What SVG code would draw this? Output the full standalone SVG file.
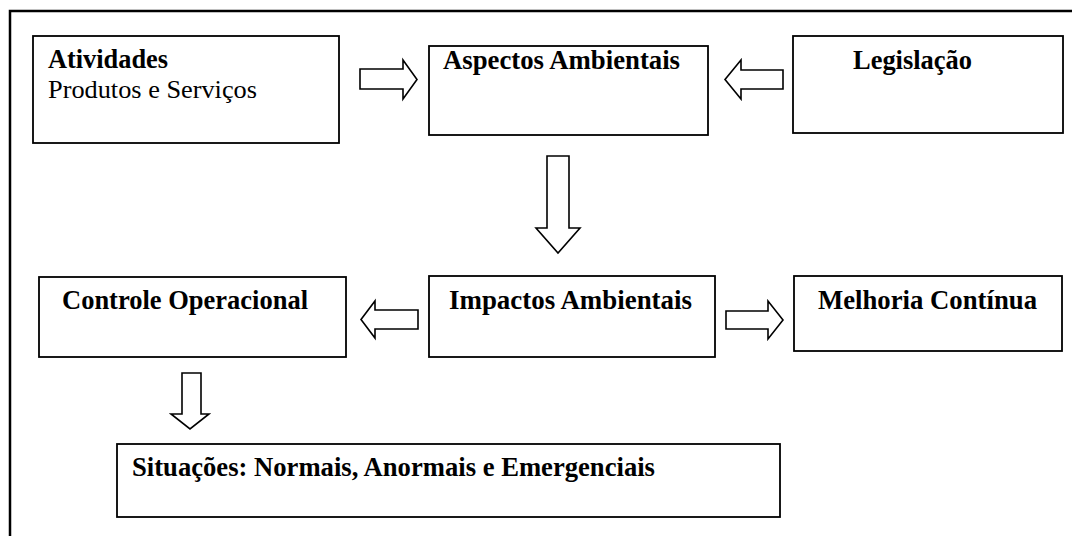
<svg xmlns="http://www.w3.org/2000/svg" width="1072" height="536" viewBox="0 0 1072 536">
  <style>
    .box { fill: #ffffff; stroke: #000000; stroke-width: 1.8; }
    .frame { fill: none; stroke: #000000; stroke-width: 2.5; }
    .arrow { fill: #ffffff; stroke: #000000; stroke-width: 1.6; stroke-linejoin: miter; }
    .t { font-family: "Liberation Serif", "Times New Roman", serif; font-size: 26px; fill: #000000; }
    .b { font-weight: bold; font-size: 28px; }
  </style>
  <rect width="1072" height="536" fill="#ffffff"/>
  <!-- outer frame, continues past the right and bottom edges -->
  <rect class="frame" x="10" y="11" width="1100" height="600"/>

  <g id="atividades">
    <rect class="box" x="33" y="36" width="306" height="107"/>
    <text class="t b" x="48" y="68" textLength="120" lengthAdjust="spacingAndGlyphs">Atividades</text>
    <text class="t" x="48" y="98" textLength="209" lengthAdjust="spacingAndGlyphs">Produtos e Serviços</text>
  </g>
  <g id="aspectos">
    <rect class="box" x="429" y="46" width="279" height="89"/>
    <text class="t b" x="443" y="69" textLength="237" lengthAdjust="spacingAndGlyphs">Aspectos Ambientais</text>
  </g>
  <g id="legislacao">
    <rect class="box" x="793" y="36" width="270" height="97"/>
    <text class="t b" x="853" y="69" textLength="119" lengthAdjust="spacingAndGlyphs">Legislação</text>
  </g>
  <g id="controle">
    <rect class="box" x="39" y="277" width="307" height="80"/>
    <text class="t b" x="62" y="309" textLength="246" lengthAdjust="spacingAndGlyphs">Controle Operacional</text>
  </g>
  <g id="impactos">
    <rect class="box" x="429" y="276" width="286" height="81"/>
    <text class="t b" x="449" y="309" textLength="243" lengthAdjust="spacingAndGlyphs">Impactos Ambientais</text>
  </g>
  <g id="melhoria">
    <rect class="box" x="794" y="276" width="268" height="75"/>
    <text class="t b" x="818" y="309" textLength="219" lengthAdjust="spacingAndGlyphs">Melhoria Contínua</text>
  </g>
  <g id="situacoes">
    <rect class="box" x="117" y="444" width="663" height="73"/>
    <text class="t b" x="132" y="476" textLength="523" lengthAdjust="spacingAndGlyphs">Situações: Normais, Anormais e Emergenciais</text>
  </g>

  <g id="connectors">
    <!-- block arrows -->
    <polygon class="arrow" points="360,69 403,69 403,60 417,79.5 403,99 403,89 360,89"/>
    <polygon class="arrow" points="783,70 741,70 741,60 725,79.5 741,99 741,89 783,89"/>
    <polygon class="arrow" points="547,156 569,156 569,228 580,228 558,253 536,228 547,228"/>
    <polygon class="arrow" points="418,310 375,310 375,301 361,319.5 375,338 375,329 418,329"/>
    <polygon class="arrow" points="726,311 768,311 768,301 783,320 768,339 768,329 726,329"/>
    <polygon class="arrow" points="182,373 201,373 201,414 209,414 190,429 171,414 182,414"/>
  </g>
</svg>
